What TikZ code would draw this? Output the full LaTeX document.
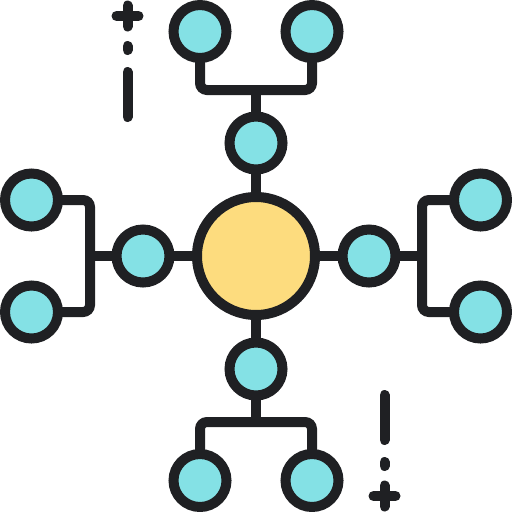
\documentclass[tikz,border=0pt]{standalone}
\definecolor{ink}{HTML}{1F2023}
\definecolor{cyanfill}{HTML}{84E1E5}
\definecolor{yellowfill}{HTML}{FDDC7E}
\begin{document}
\begin{tikzpicture}[x=1pt,y=-1pt,
  line width=10pt, draw=ink,
  leaf/.style={circle, draw=ink, fill=cyanfill, line width=10pt, minimum size=53pt, inner sep=0pt, outer sep=0pt},
  hub/.style={circle, draw=ink, fill=yellowfill, line width=10pt, minimum size=118pt, inner sep=0pt, outer sep=0pt},
  wire/.style={draw=ink, line width=10pt, rounded corners=7pt},
  deco/.style={draw=ink, line width=10pt, line cap=round}]
\useasboundingbox (0,0) rectangle (512,512);
% coordinates for bars
\coordinate (tb1) at (200,90); \coordinate (tb2) at (312,90); \coordinate (tbm) at (256,90);
\coordinate (bb1) at (200,422); \coordinate (bb2) at (312,422); \coordinate (bbm) at (256,422);
\coordinate (lb1) at (90,200); \coordinate (lb2) at (90,312); \coordinate (lbm) at (90,256);
\coordinate (rb1) at (422,200); \coordinate (rb2) at (422,312); \coordinate (rbm) at (422,256);
% wires (drawn first, nodes cover ends)
\path[wire] (200,31.5) -- (tb1) -- (tb2) -- (312,31.5);
\path[wire] (200,480.5) -- (bb1) -- (bb2) -- (312,480.5);
\path[wire] (31.5,200) -- (lb1) -- (lb2) -- (31.5,312);
\path[wire] (480.5,200) -- (rb1) -- (rb2) -- (480.5,312);
\path[wire] (tbm) -- (256,256);
\path[wire] (bbm) -- (256,256);
\path[wire] (lbm) -- (256,256);
\path[wire] (rbm) -- (256,256);
% nodes
\node[hub] (c) at (256,256) {};
\node[leaf] (tm) at (256,143) {};
\node[leaf] (bm) at (256,369) {};
\node[leaf] (lm) at (143,256) {};
\node[leaf] (rm) at (369,256) {};
\node[leaf] (tl) at (200,31.5) {};
\node[leaf] (tr) at (312,31.5) {};
\node[leaf] (bl) at (200,480.5) {};
\node[leaf] (br) at (312,480.5) {};
\node[leaf] (lt) at (31.5,200) {};
\node[leaf] (lbn) at (31.5,312) {};
\node[leaf] (rt) at (480.5,200) {};
\node[leaf] (rbn) at (480.5,312) {};
% decorations top-left
\path[deco] (116.5,16) -- (138.5,16);
\path[deco] (127.5,5.5) -- (127.5,26.5);
\path[deco] (127.5,46) -- (127.5,50);
\path[deco] (127.5,72) -- (127.5,117);
% decorations bottom-right
\path[deco] (373.5,496) -- (395.5,496);
\path[deco] (384.5,485.5) -- (384.5,506.5);
\path[deco] (384.5,462) -- (384.5,466);
\path[deco] (384.5,395) -- (384.5,440);
\end{tikzpicture}
\end{document}
